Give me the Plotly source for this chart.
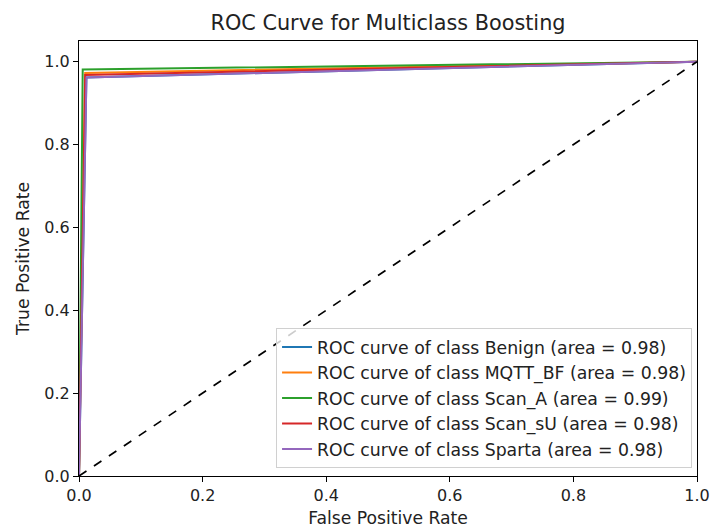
import plotly.graph_objects as go

classes = ["Benign", "MQTT_BF", "Scan_A", "Scan_sU", "Sparta"]
areas = [0.98, 0.98, 0.99, 0.98, 0.98]
fpr_values = [
    [0.0, 0.012, 1.0],
    [0.0, 0.010, 1.0],
    [0.0, 0.006, 1.0],
    [0.0, 0.010, 1.0],
    [0.0, 0.012, 1.0],
]
tpr_values = [
    [0.0, 0.962, 1.0],
    [0.0, 0.973, 1.0],
    [0.0, 0.981, 1.0],
    [0.0, 0.968, 1.0],
    [0.0, 0.962, 1.0],
]
colors = ["#1f77b4", "#ff7f0e", "#2ca02c", "#d62728", "#9467bd"]
tick_vals = [0.0, 0.2, 0.4, 0.6, 0.8, 1.0]
tick_text = ["0.0", "0.2", "0.4", "0.6", "0.8", "1.0"]

fig = go.Figure()
for i, cls in enumerate(classes):
    fig.add_trace(go.Scatter(
        x=fpr_values[i], y=tpr_values[i], mode="lines",
        line=dict(color=colors[i], width=2),
        name=f"ROC curve of class {cls} (area = {areas[i]:.2f})",
    ))
fig.add_trace(go.Scatter(
    x=[0, 1], y=[0, 1], mode="lines",
    line=dict(color="black", width=1.7, dash="dash"),
    showlegend=False,
))

axis_common = dict(
    showgrid=False, zeroline=False, showline=True, mirror=True,
    linecolor="black", linewidth=1, ticks="outside", ticklen=5,
    tickcolor="black", tickwidth=1, automargin=False,
    tickvals=tick_vals, ticktext=tick_text,
    tickfont=dict(size=16, color="#222222"),
)

fig.update_layout(
    width=715, height=528,
    margin=dict(l=79, r=18, t=41, b=52),
    paper_bgcolor="white", plot_bgcolor="white",
    font=dict(family="DejaVu Sans", color="#222222"),
    title=dict(text="ROC Curve for Multiclass Boosting", x=0.5, xanchor="center", xref="paper",
               y=1 - 23 / 528, yanchor="middle", font=dict(size=20.8)),
    xaxis=dict(range=[0, 1], title=dict(text="False Positive Rate", font=dict(size=17.2)),
               **axis_common),
    yaxis=dict(range=[0, 1.05], title=dict(text="True Positive Rate", font=dict(size=17.2), standoff=10),
               **axis_common),
    legend=dict(x=0.992, y=0.018, xanchor="right", yanchor="bottom",
                bgcolor="rgba(255,255,255,0.8)", bordercolor="#d0d0d0", borderwidth=1,
                font=dict(size=17.3)),
)

fig.write_html("out.html")
